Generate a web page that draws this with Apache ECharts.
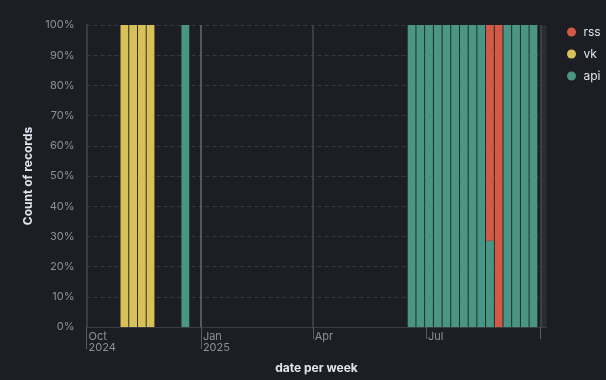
<!DOCTYPE html>
<html>
<head>
<meta charset="utf-8">
<script src="https://cdn.jsdelivr.net/npm/echarts@6/dist/echarts.min.js"></script>
<style>
html,body{margin:0;padding:0;background:#1d1e24;}
#c{width:606px;height:380px;}
</style>
</head>
<body>
<div id="c"></div>
<script>
// Weekly buckets (week start dates, Monday)
const weeks = ['2024-10-28','2024-11-04','2024-11-11','2024-11-18','2024-12-16',
  '2025-06-16','2025-06-23','2025-06-30','2025-07-07','2025-07-14','2025-07-21','2025-07-28',
  '2025-08-04','2025-08-11','2025-08-18','2025-08-25','2025-09-01','2025-09-08','2025-09-15','2025-09-22'];
// Percent share of records per week (stack order: api bottom, vk, rss top)
const apiPct = [0,0,0,0,100, 100,100,100,100,100,100,100,100,100,28.6,0,100,100,100,100];
const vkPct  = [100,100,100,100,0, 0,0,0,0,0,0,0,0,0,0,0,0,0,0,0];
const rssPct = [0,0,0,0,0, 0,0,0,0,0,0,0,0,0,71.4,100,0,0,0,0];
// Axis ticks
const tickDates = ['2024-10-01','2025-01-01','2025-04-01','2025-07-01','2025-10-01'];
const tickLabels = ['Oct\n2024','Jan\n2025','Apr','Jul',''];
const yearTickDates = ['2024-10-01','2025-01-01'];
const domainStart = '2024-10-01';
const domainEnd = '2025-10-06';
const rangeEnd = '2025-10-01';

const DAY = 86400000;
const ts = s => Date.parse(s + 'T00:00:00Z');

const labelByTs = {};
tickDates.forEach((d, i) => { labelByTs[ts(d)] = tickLabels[i]; });

// build stacked segments [weekStart, weekEnd, base, top]
const stackOrder = [['api', apiPct, '#489683'], ['vk', vkPct, '#d7c158'], ['rss', rssPct, '#d05a44']];
const cum = weeks.map(() => 0);
const segs = stackOrder.map(([name, arr]) => weeks.map((w, i) => {
  const base = cum[i];
  cum[i] += arr[i];
  return [ts(w), ts(w) + 7 * DAY, base, cum[i]];
}));

function renderBar(params, api) {
  const top = api.value(3), base = api.value(2);
  if (top - base <= 0) return null;
  const p0 = api.coord([api.value(0), top]);
  const p1 = api.coord([api.value(1), base]);
  return {
    type: 'rect',
    shape: {x: p0[0] + 0.45, y: p0[1], width: p1[0] - p0[0] - 0.9, height: p1[1] - p0[1]},
    style: {fill: api.visual('color')}
  };
}

const FONT = 'Inter';
const chart = echarts.init(document.getElementById('c'), null, {renderer: 'canvas'});

chart.setOption({
  backgroundColor: '#1d1e24',
  animation: false,
  textStyle: {fontFamily: FONT},
  grid: {left: 86.5, top: 25, width: 460, height: 302},
  legend: {
    orient: 'vertical', left: 562, top: 20,
    icon: 'circle', itemWidth: 14, itemHeight: 9, itemGap: 8,
    data: ['rss', 'vk', 'api'],
    textStyle: {color: '#dfe5ef', fontSize: 12, fontFamily: FONT, lineHeight: 14}
  },
  xAxis: [{
    type: 'value', min: ts(domainStart), max: ts(domainEnd),
    name: 'date per week', nameLocation: 'middle', nameGap: 35,
    nameTextStyle: {color: '#dfe5ef', fontSize: 12, fontWeight: 'bold', fontFamily: FONT},
    axisLine: {show: true, lineStyle: {color: '#3b3d45', width: 1}},
    axisTick: {show: true, customValues: tickDates.map(ts), length: 12, lineStyle: {color: '#5a5b61'}},
    axisLabel: {
      show: true, customValues: tickDates.slice(0, 4).map(ts),
      formatter: v => labelByTs[v] || '',
      color: '#8e9097', fontSize: 11, fontFamily: FONT, lineHeight: 11,
      align: 'left', margin: 4, padding: [0, 0, 0, 2]
    },
    splitLine: {show: false}
  }, {
    type: 'value', min: ts(domainStart), max: ts(domainEnd), position: 'bottom',
    axisLine: {show: false},
    axisTick: {show: true, customValues: yearTickDates.map(ts), length: 22, lineStyle: {color: '#5a5b61'}},
    axisLabel: {show: false},
    splitLine: {show: false}
  }],
  yAxis: {
    type: 'value', min: 0, max: 100, interval: 10,
    name: 'Count of records', nameLocation: 'middle', nameGap: 52, nameRotate: 90,
    nameTextStyle: {color: '#dfe5ef', fontSize: 12, fontWeight: 'bold', fontFamily: FONT},
    axisLine: {show: true, lineStyle: {color: '#46474e', width: 1.5}},
    axisTick: {show: false},
    axisLabel: {formatter: '{value}%', color: '#8e9097', fontSize: 11, fontFamily: FONT, margin: 12},
    splitLine: {show: true, lineStyle: {color: '#383a42', type: [4, 3], width: 1}}
  },
  series: [
    {
      type: 'line', data: [], xAxisIndex: 0, yAxisIndex: 0, z: 1, silent: true,
      markLine: {
        silent: true, symbol: 'none', z: 1, label: {show: false},
        data: tickDates.slice(1).map(d => ({
          xAxis: ts(d),
          lineStyle: {color: d === '2025-01-01' ? '#6a6b71' : '#46474d', width: 1.5, type: 'solid'}
        }))
      },
      markArea: {
        silent: true, z: 1,
        itemStyle: {color: '#2b2d35'},
        data: [[{xAxis: ts(rangeEnd)}, {xAxis: ts(domainEnd)}]]
      }
    }
  ].concat(stackOrder.map(([name, arr, color], k) => ({
    type: 'custom', name: name, z: 3,
    xAxisIndex: 0, yAxisIndex: 0,
    encode: {x: [0, 1], y: [2, 3]},
    itemStyle: {color: color},
    renderItem: renderBar,
    data: segs[k]
  })))
});
</script>
</body>
</html>
